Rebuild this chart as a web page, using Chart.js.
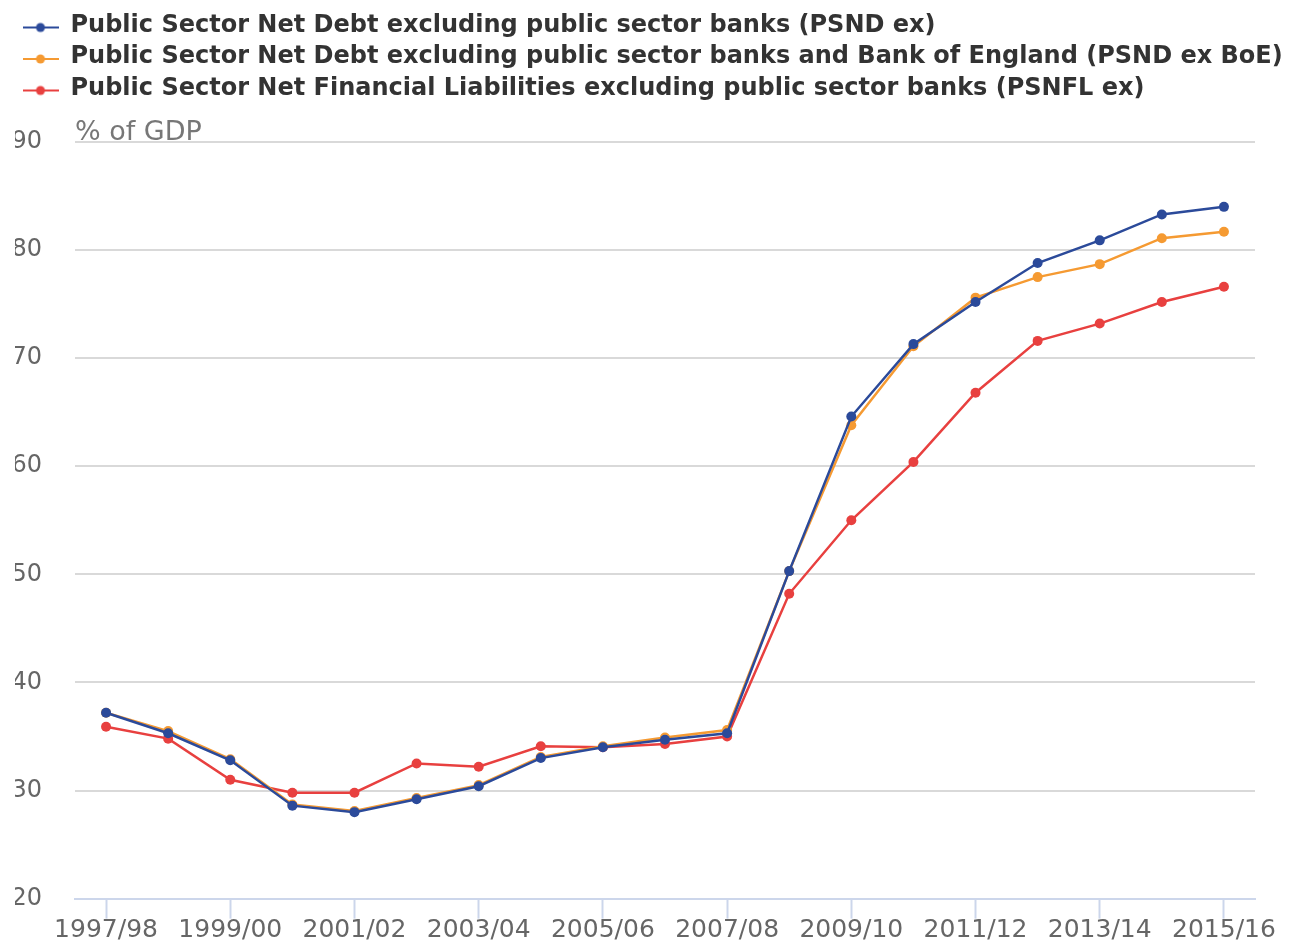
<!DOCTYPE html>
<html>
<head>
<meta charset="utf-8">
<script src="https://cdn.jsdelivr.net/npm/chart.js@4"></script>
<style>
  html, body { margin: 0; padding: 0; background: #fff; overflow: hidden; }
  canvas { display: block; }
</style>
</head>
<body>
<canvas id="chart" width="1293" height="946"></canvas>
<script>
const years = ['1997/98','1998/99','1999/00','2000/01','2001/02','2002/03','2003/04','2004/05','2005/06','2006/07',
  '2007/08','2008/09','2009/10','2010/11','2011/12','2012/13','2013/14','2014/15','2015/16'];
const psndEx = [37.2, 35.3, 32.8, 28.6, 28.0, 29.2, 30.4, 33.0, 34.0, 34.7, 35.3, 50.3, 64.6, 71.3, 75.2, 78.8, 80.9, 83.3, 84.0];
const psndExBoE = [37.2, 35.5, 32.9, 28.7, 28.1, 29.3, 30.5, 33.1, 34.1, 34.9, 35.6, 50.3, 63.8, 71.1, 75.6, 77.5, 78.7, 81.1, 81.7];
const psnflEx = [35.9, 34.8, 31.0, 29.8, 29.8, 32.5, 32.2, 34.1, 34.0, 34.3, 35.0, 48.2, 55.0, 60.4, 66.8, 71.6, 73.2, 75.2, 76.6];
const seriesNames = [
  'Public Sector Net Debt excluding public sector banks (PSND ex)',
  'Public Sector Net Debt excluding public sector banks and Bank of England (PSND ex BoE)',
  'Public Sector Net Financial Liabilities excluding public sector banks (PSNFL ex)'
];
const colors = ['#2b4a9a', '#f59a32', '#e8403f'];

Chart.defaults.font.family = '"DejaVu Sans", sans-serif';

// legend marker: short line with a dot, sitting a touch below the text centre
function marker(col) {
  const c = document.createElement('canvas');
  c.width = 36; c.height = 16;
  const g = c.getContext('2d');
  g.strokeStyle = col; g.lineWidth = 2;
  g.beginPath(); g.moveTo(0, 10); g.lineTo(36, 10); g.stroke();
  g.fillStyle = col;
  g.beginPath(); g.arc(18, 10, 4.5, 0, Math.PI * 2); g.fill();
  return c;
}

function ds(label, data, col) {
  return {
    label: label, data: data,
    borderColor: col, backgroundColor: col,
    borderWidth: 2.5, pointRadius: 5, pointHoverRadius: 5,
    pointBackgroundColor: col, pointBorderWidth: 0,
    tension: 0
  };
}

const unitLabel = {
  id: 'unitLabel',
  afterInit(chart) {
    const orig = chart.legend.fit;
    chart.legend.fit = function() {
      orig.call(this);
      this.height = 136;
    };
  },
  afterLayout(chart) {
    // let the long legend line run past the plot's right edge
    chart.legend.right = chart.width;
  },
  afterDraw(chart) {
    const ctx = chart.ctx;
    ctx.save();
    ctx.font = '27px "DejaVu Sans"';
    ctx.fillStyle = '#777';
    ctx.textBaseline = 'alphabetic';
    ctx.fillText('% of GDP', chart.chartArea.left, chart.chartArea.top - 2);
    ctx.restore();
  }
};

new Chart(document.getElementById('chart'), {
  type: 'line',
  data: {
    labels: years,
    datasets: [
      ds(seriesNames[0], psndEx, colors[0]),
      ds(seriesNames[1], psndExBoE, colors[1]),
      ds(seriesNames[2], psnflEx, colors[2])
    ]
  },
  plugins: [unitLabel],
  options: {
    responsive: false,
    animation: false,
    layout: { padding: { left: 15, right: 38, top: 6, bottom: 0 } },
    plugins: {
      tooltip: { enabled: false },
      legend: {
        position: 'top',
        align: 'start',
        labels: {
          usePointStyle: true,
          pointStyleWidth: 36,
          boxHeight: 12,
          padding: 7.5,
          color: '#333',
          font: { size: 24, weight: 'bold' },
          generateLabels(chart) {
            return chart.data.datasets.map((d, i) => ({
              text: d.label, datasetIndex: i, hidden: false,
              pointStyle: marker(colors[i]), fontColor: '#333',
              strokeStyle: colors[i], fillStyle: colors[i], lineWidth: 0
            }));
          }
        }
      }
    },
    scales: {
      x: {
        offset: true,
        afterFit(s) { s.height = 43; },
        border: { color: '#ccd6eb', width: 2 },
        grid: {
          offset: false,
          drawOnChartArea: false,
          drawTicks: true,
          tickLength: 20,
          tickWidth: 2,
          tickColor: c => (c.index % 2 === 0 ? '#ccd6eb' : 'rgba(0,0,0,0)')
        },
        ticks: {
          autoSkip: false,
          maxRotation: 0,
          padding: -3,
          color: '#666',
          font: { size: 25 },
          callback(v, i) { return i % 2 === 0 ? years[i] : ''; }
        }
      },
      y: {
        min: 20, max: 90,
        afterFit(s) { s.width = 60; },
        border: { display: false },
        grid: {
          drawTicks: false,
          lineWidth: 2,
          color: c => (c.tick && c.tick.value === 20 ? 'rgba(0,0,0,0)' : '#d9d9d9')
        },
        ticks: {
          stepSize: 10,
          padding: 33,
          color: '#666',
          font: { size: 24 }
        }
      }
    }
  }
});
</script>
</body>
</html>
